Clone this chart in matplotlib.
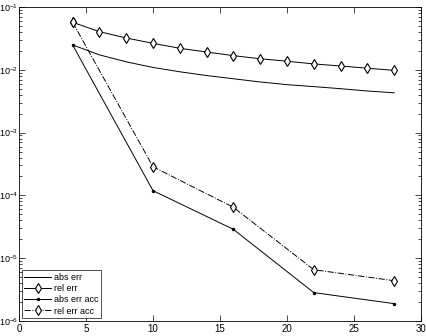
import matplotlib
matplotlib.use('Agg')
import matplotlib.pyplot as plt
from matplotlib.ticker import LogLocator, NullFormatter

plt.rcParams['font.family'] = ['Liberation Sans', 'DejaVu Sans']
plt.rcParams['mathtext.fontset'] = 'custom'
plt.rcParams['mathtext.rm'] = 'Liberation Sans'
plt.rcParams['mathtext.it'] = 'Liberation Sans'

# data
n = [4, 6, 8, 10, 12, 14, 16, 18, 20, 22, 24, 26, 28]
abs_err = [0.0249, 0.0173, 0.0134, 0.0109, 0.0093, 0.0081, 0.0072,
           0.0064, 0.0058, 0.0054, 0.0050, 0.0046, 0.0043]
rel_err = [0.0571, 0.0405, 0.0321, 0.0264, 0.0220, 0.0192, 0.0168,
           0.0150, 0.0137, 0.0124, 0.0115, 0.0106, 0.0098]

n_acc = [4, 10, 16, 22, 28]
abs_err_acc = [0.0249, 1.19e-4, 2.88e-5, 2.83e-6, 1.89e-6]
rel_err_acc = [0.0571, 2.86e-4, 6.46e-5, 6.56e-6, 4.38e-6]

labels = ['abs err', 'rel err', 'abs err acc', 'rel err acc']

fig = plt.figure(figsize=(4.27, 3.36), dpi=100)
ax = fig.add_axes([19/427, 15/336, 402/427, 314/336])

lw = 0.7
ax.semilogy(n, abs_err, '-', color='k', lw=lw, label=labels[0])
ax.semilogy(n, rel_err, '-', color='k', lw=lw, marker='d', ms=5.5,
            mfc='white', mec='k', mew=0.8, label=labels[1])
ax.semilogy(n_acc, abs_err_acc, '-', color='k', lw=lw, marker='.', ms=3,
            label=labels[2])
ax.semilogy(n_acc, rel_err_acc, '-.', color='k', lw=lw, marker='d', ms=5.5,
            mfc='white', mec='k', mew=0.8, label=labels[3])

ax.set_xlim(0, 30)
ax.set_ylim(1e-6, 1e-1)
ax.set_xticks([0, 5, 10, 15, 20, 25, 30])
ax.yaxis.set_major_locator(LogLocator(base=10, numticks=10))
ax.yaxis.set_minor_locator(LogLocator(base=10, subs=range(2, 10), numticks=10))
ax.yaxis.set_minor_formatter(NullFormatter())
ax.tick_params(which='both', direction='in', top=True, right=True,
               labelsize=7, width=0.5, pad=2)
ax.tick_params(axis='y', labelsize=6.5, pad=0.5)
ax.tick_params(which='major', length=4)
ax.tick_params(which='minor', length=2)
for s in ax.spines.values():
    s.set_linewidth(0.6)

leg = ax.legend(loc='lower left', fontsize=6.5, frameon=True, fancybox=False,
                edgecolor='k', borderpad=0.3, labelspacing=0.25,
                handlelength=3.0, handletextpad=0.3, borderaxespad=0.3)
leg.get_frame().set_linewidth(0.6)

fig.savefig('out.png', dpi=100)
